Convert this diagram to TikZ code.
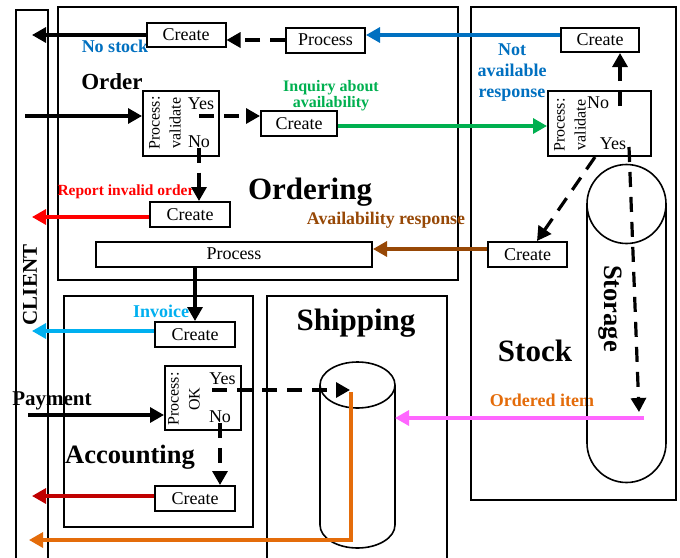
\documentclass[tikz,border=0pt]{standalone}
\usepackage{fontspec}
\setmainfont{Liberation Serif}
\usetikzlibrary{arrows.meta}
\definecolor{cblue}{RGB}{0,112,192}
\definecolor{cgreen}{RGB}{0,176,80}
\definecolor{cred}{RGB}{255,0,0}
\definecolor{cbrown}{RGB}{151,72,6}
\definecolor{ccyan}{RGB}{0,176,240}
\definecolor{cdred}{RGB}{192,0,0}
\definecolor{corange}{RGB}{228,108,10}
\definecolor{cpink}{RGB}{255,102,255}
\begin{document}
\begin{tikzpicture}[x=1pt,y=-1pt,
  grp/.style={draw, line width=1.8pt, inner sep=0pt},
  bx/.style={draw, line width=2pt, inner sep=0pt, font=\fontsize{18}{20}\selectfont},
  arr/.style={line width=3.2pt, -{Triangle[length=14pt,width=15pt]}},
  darr/.style={arr, dash pattern=on 15pt off 10pt},
  lbl/.style={font=\bfseries\fontsize{18}{20}\selectfont, inner sep=0pt, align=center},
  txt/.style={font=\fontsize{18}{20}\selectfont, inner sep=0pt},
  rtxt/.style={rotate=90, align=center, inner sep=0pt, font=\fontsize{16}{21}\selectfont},
  shape line/.style={line width=1.6pt}]
\fill[white] (0,0) rectangle (680,557);
\useasboundingbox (0,0) rectangle (680,557);

% groups
\node[grp, minimum width=32pt, minimum height=552pt] (client) at (32,286) {};
\node[grp, minimum width=400pt, minimum height=273pt] (ordering) at (258,143.5) {};
\node[grp, minimum width=205pt, minimum height=493pt] (stock) at (573.5,253.5) {};
\node[grp, minimum width=189pt, minimum height=231pt] (accounting) at (158.5,411.5) {};
\node[grp, minimum width=180pt, minimum height=268pt] (shipping) at (357,430) {};

% labels
\node[font=\bfseries\fontsize{21}{21}\selectfont, rotate=90, inner sep=0pt] (clientlbl) at (30,285) {CLIENT};
\node[lbl, text=cblue] (lnostock) at (115,46) {No stock};
\node[font=\bfseries\fontsize{23}{23}\selectfont, inner sep=0pt] (lorder) at (112,81.5) {Order};
\node[lbl, text=cgreen, font=\bfseries\fontsize{16}{16}\selectfont] (linq) at (331,96) {Inquiry about\\availability};
\node[lbl, text=cblue, font=\bfseries\fontsize{18}{21}\selectfont] (lnotavail) at (512,73) {Not\\available\\response};
\node[lbl, text=cred, font=\bfseries\fontsize{15.5}{15.5}\selectfont] (linvalid) at (126,192) {Report invalid order};
\node[font=\bfseries\fontsize{31}{31}\selectfont, inner sep=0pt] (lordering) at (310,192.5) {Ordering};
\node[lbl, text=cbrown, font=\bfseries\fontsize{17.8}{17.8}\selectfont] (lavail) at (386,220) {Availability response};
\node[font=\bfseries\fontsize{31}{31}\selectfont, inner sep=0pt] (lshipping) at (356,323) {Shipping};
\node[font=\bfseries\fontsize{31}{31}\selectfont, inner sep=0pt] (lstock) at (535,351) {Stock};
\node[lbl, text=ccyan] (linvoice) at (161,311) {Invoice};
\node[font=\bfseries\fontsize{21}{21}\selectfont, inner sep=0pt] (lpay) at (52,400.5) {Payment};
\node[font=\bfseries\fontsize{26.5}{26.5}\selectfont, inner sep=0pt] (lacc) at (130,457) {Accounting};
\node[lbl, text=corange] (lordered) at (542,400) {Ordered item};

% storage
\draw[shape line] (626.5,204) circle[radius=39.5pt];
\draw[shape line] (587,204) -- (587,443) arc[start angle=180, end angle=360, radius=39.5pt] -- (666,204);
\node[font=\bfseries\fontsize{26.5}{26.5}\selectfont, rotate=-90, inner sep=0pt] (storagelbl) at (610,308.5) {Storage};

% shipping cylinder
\draw[shape line] (357.5,385) ellipse[x radius=37.5pt, y radius=23pt];
\draw[shape line] (320,385) -- (320,525) arc[start angle=180, end angle=360, x radius=37.5pt, y radius=23pt] -- (395,385);
\coordinate (cylE) at (395,418);
\coordinate (cylIn) at (351,392);
\coordinate (cylTop) at (350,390);

% boxes
\node[bx, minimum width=79pt, minimum height=24pt] (cnostock) at (186,35) {Create};
\node[bx, minimum width=79pt, minimum height=25pt] (ptop) at (325.5,40) {Process};
\node[bx, minimum width=78pt, minimum height=24pt] (cnotavail) at (600,40) {Create};
\node[bx, minimum width=76pt, minimum height=65pt] (valo) at (181,123.5) {};
\node[bx, minimum width=76pt, minimum height=25pt] (cinq) at (299,123.5) {Create};
\node[bx, minimum width=103pt, minimum height=65pt] (vals) at (599.5,123.5) {};
\node[bx, minimum width=79pt, minimum height=25pt] (cavail) at (527.5,254.5) {Create};
\node[bx, minimum width=80pt, minimum height=25pt] (cinvalid) at (190,214.5) {Create};
\node[bx, minimum width=276pt, minimum height=25pt] (pwide) at (234,254) {Process};
\node[bx, minimum width=80pt, minimum height=25pt] (cinvoice) at (195,334.5) {Create};
\node[bx, minimum width=76pt, minimum height=64pt] (valok) at (203,398) {};
\node[bx, minimum width=80pt, minimum height=25pt] (cfail) at (195,498.5) {Create};

% texts inside decision boxes
\node[rtxt] (valotxt) at (165,123) {Process:\\validate};
\node[txt] (yeso) at (201,104) {Yes};
\node[txt] (noo) at (199,141.5) {No};
\node[rtxt] (valstxt) at (570,125) {Process:\\validate};
\node[txt] (nos) at (598,103) {No};
\node[txt] (yess) at (613,143.5) {Yes};
\node[rtxt] (valoktxt) at (184,399) {Process:\\OK};
\node[txt] (yesok) at (222.5,378.5) {Yes};
\node[txt] (nook) at (220,417) {No};

% coordinates
\coordinate (inorder) at (25,116);
\coordinate (yesoout) at (199,116);
\coordinate (nosout) at (620,106);
\coordinate (yessout) at (629,147);
\coordinate (storbot) at (639,412);
\coordinate (inpay) at (28,415);
\coordinate (yesokout) at (212,390);
\coordinate (storout) at (644,418);
\coordinate (orangeEnd) at (29,540);

% connectors
\draw[darr] (ptop.west) -- (ptop.west -| cnostock.east);
\draw[arr, cblue] ([yshift=5pt]cnotavail.west) -- ([yshift=5pt]cnotavail.west -| ptop.east);
\draw[arr] (cnostock.west) -- (cnostock.west -| client.center);
\draw[arr] (inorder) -- (inorder -| valo.west);
\draw[darr] (yesoout) -- (yesoout -| cinq.west);
\draw[arr, cgreen] ([yshift=-2.5pt]cinq.east) -- ([yshift=-2.5pt]cinq.east -| vals.west);
\draw[darr] (noo.south) -- (noo.south |- cinvalid.north);
\draw[arr, cred] ([yshift=-2.5pt]cinvalid.west) -- ([yshift=-2.5pt]cinvalid.west -| client.center);
\draw[darr] (nosout) -- (nosout |- cnotavail.south);
\draw[darr] ([xshift=-4.5pt]vals.south) -- ([xshift=9.5pt]cavail.north);
\draw[darr] (yessout) -- (storbot);
\draw[arr, cbrown] ([yshift=5.5pt]cavail.west) -- ([yshift=5.5pt]cavail.west -| pwide.east);
\draw[arr] (cinvoice.north |- pwide.south) -- (cinvoice.north);
\draw[arr, ccyan] ([yshift=3.5pt]cinvoice.west) -- ([yshift=3.5pt]cinvoice.west -| client.center);
\draw[arr] (inpay) -- (inpay -| valok.west);
\draw[darr] (yesokout) -- (cylTop);
\draw[darr] (nook.south) -- (nook.south |- cfail.north);
\draw[arr, cdred] ([yshift=2.5pt]cfail.west) -- ([yshift=2.5pt]cfail.west -| client.center);
\draw[arr, cpink] (storout) -- (cylE);
\draw[arr, corange] (cylIn) |- (orangeEnd);
\end{tikzpicture}
\end{document}
